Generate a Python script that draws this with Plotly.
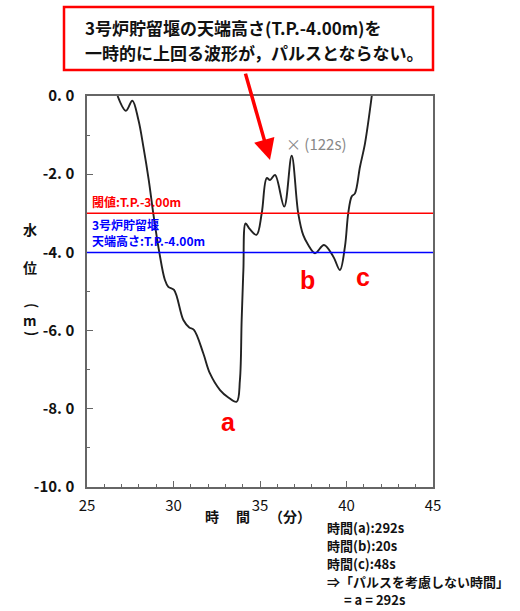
import plotly.graph_objects as go

# 水位の時系列 (分, T.P. m)
time_min = [26.77, 27.25, 27.62, 27.97, 28.26, 28.57, 28.83, 29.18, 29.50, 29.70,
            30.03, 30.57, 30.91, 31.18, 31.72, 32.10, 32.69, 33.17, 33.65, 33.84,
            33.94, 34.04, 34.17, 34.40, 34.80, 35.10, 35.39, 35.58, 35.87, 36.40,
            36.83, 37.21, 37.50, 37.79, 38.18, 38.70, 39.24, 39.62, 39.91, 40.10,
            40.30, 40.49, 40.78, 41.07, 41.46]
level_m = [0.0, -0.38, -0.12, -0.61, -1.30, -2.15, -3.00, -4.00, -4.70, -4.88,
           -4.96, -5.73, -5.92, -5.98, -6.58, -7.09, -7.52, -7.71, -7.82, -7.26,
           -5.73, -4.45, -3.26, -3.40, -3.55, -3.00, -2.10, -2.15, -2.02, -2.83,
           -1.53, -3.00, -3.56, -3.81, -4.02, -3.81, -4.11, -4.45, -3.85, -3.00,
           -2.57, -2.49, -1.81, -1.21, 0.0]

threshold_level = -3.0
weir_level = -4.0

x_ticks = [25, 30, 35, 40, 45]
y_ticks = [0, -2, -4, -6, -8, -10]
y_ticktext = ['0. 0', '-2. 0', '-4. 0', '-6. 0', '-8. 0', '-10. 0']

point_names = ['a', 'b', 'c']
point_x = [33.15, 37.77, 40.95]
point_y = [-8.34, -4.71, -4.63]

callout_lines = ['3号炉貯留堰の天端高さ(T.P.-4.00m)を',
                 '一時的に上回る波形が，パルスとならない。']

summary_lines = ['時間(a):292s', '時間(b):20s', '時間(c):48s',
                 '⇒「パルスを考慮しない時間」', '= a = 292s']

W, H = 520, 611
L, R, T, B = 87, 433, 96, 487
JP = 'Noto Sans CJK JP'


def px(x):
    return (x - L) / (R - L)


def py(y):
    return (B - y) / (B - T)


fig = go.Figure()
fig.add_trace(go.Scatter(x=time_min, y=level_m, mode='lines', line_shape='spline',
                         line=dict(color='#222222', width=1.9), showlegend=False,
                         hoverinfo='skip'))

ann = []
ann.append(dict(x=px(90), y=threshold_level, xref='paper', yref='y', xanchor='left',
                yanchor='bottom', yshift=1, showarrow=False, align='left',
                text='閾値:T.P.-3.00m', font=dict(family=JP, size=12, color='#ff0000', weight='bold')))
ann.append(dict(x=px(90), y=weir_level, xref='paper', yref='y', xanchor='left',
                yanchor='bottom', yshift=1, showarrow=False, align='left',
                text='3号炉貯留堰<br>天端高さ:T.P.-4.00m',
                font=dict(family=JP, size=12, color='#0000ff', weight='bold')))
ann.append(dict(x=px(284), y=py(143), xref='paper', yref='paper', xanchor='left',
                yanchor='middle', showarrow=False, text='× (122s)',
                font=dict(family=JP, size=15, color='#888888')))

for n, x, y in zip(point_names, point_x, point_y):
    ann.append(dict(x=x, y=y, xref='x', yref='y', showarrow=False, text=n,
                    font=dict(family='Liberation Sans', size=25, color='#ff0000', weight='bold')))

# 吹き出し
for i, s in enumerate(callout_lines):
    ann.append(dict(x=px(83), y=py(28 + 24 * i), xref='paper', yref='paper', xanchor='left',
                    yanchor='middle', showarrow=False, align='left', text=s,
                    font=dict(family=JP, size=17, color='#111111', weight='bold')))
ann.append(dict(x=35.58, y=-1.64, xref='x', yref='y', ax=-25, ay=-88, showarrow=True,
                arrowhead=2, arrowsize=1.2, arrowwidth=3.5, arrowcolor='#ff0000', text=''))

# 軸タイトル
for ch, yy, ang in zip(['水', '位', '(', 'm', ')'], [229, 267, 305, 320, 333], [0, 0, 90, 0, 90]):
    ann.append(dict(x=px(21), y=py(yy), xref='paper', yref='paper', showarrow=False,
                    text=ch, textangle=ang,
                    font=dict(family=JP, size=14, color='#111111', weight='bold')))
for ch, xx in zip(['時', '間', '（分）'], [212, 243, 290]):
    ann.append(dict(x=px(xx), y=py(528), xref='paper', yref='paper', showarrow=False,
                    text=ch, font=dict(family=JP, size=14, color='#111111', weight='bold')))

for i, s in enumerate(summary_lines):
    ann.append(dict(x=px(342 if s.startswith('=') else 325), y=py(527 + 18 * i),
                    xref='paper', yref='paper',
                    xanchor='left', yanchor='middle', showarrow=False, text=s,
                    font=dict(family=JP, size=13, color='#111111', weight='bold')))

fig.update_layout(
    width=W, height=H,
    margin=dict(l=L, r=W - R, t=T, b=H - B),
    plot_bgcolor='white', paper_bgcolor='white',
    annotations=ann,
    xaxis=dict(range=[25, 45], tickvals=x_ticks, ticks='inside', ticklen=6,
               tickcolor='#666666', showline=True, linecolor='#666666', linewidth=1.5,
               mirror=True, showgrid=False, zeroline=False, ticklabelstandoff=4,
               minor=dict(dtick=1, ticks='inside', ticklen=3, tickcolor='#666666'),
               tickfont=dict(family=JP, size=15, color='#111111')),
    yaxis=dict(range=[-10, 0], tickvals=y_ticks, ticktext=y_ticktext, ticks='inside',
               ticklen=6, tickcolor='#666666', showline=True, linecolor='#666666',
               linewidth=1.5, mirror=True, showgrid=False, zeroline=False,
               ticklabelstandoff=8,
               minor=dict(dtick=1, ticks='inside', ticklen=3, tickcolor='#666666'),
               tickfont=dict(family=JP, size=15, color='#111111', weight='bold')),
)

fig.add_shape(type='rect', xref='paper', yref='paper', x0=px(64), x1=px(433),
              y0=py(70), y1=py(7), line=dict(color='#ff0000', width=2.5))
fig.add_hline(y=threshold_level, line=dict(color='#ff0000', width=1.5))
fig.add_hline(y=weir_level, line=dict(color='#0000ff', width=1.5))

fig.write_html('out.html', config={'displayModeBar': False},
               post_script="document.body.style.margin='0';")
